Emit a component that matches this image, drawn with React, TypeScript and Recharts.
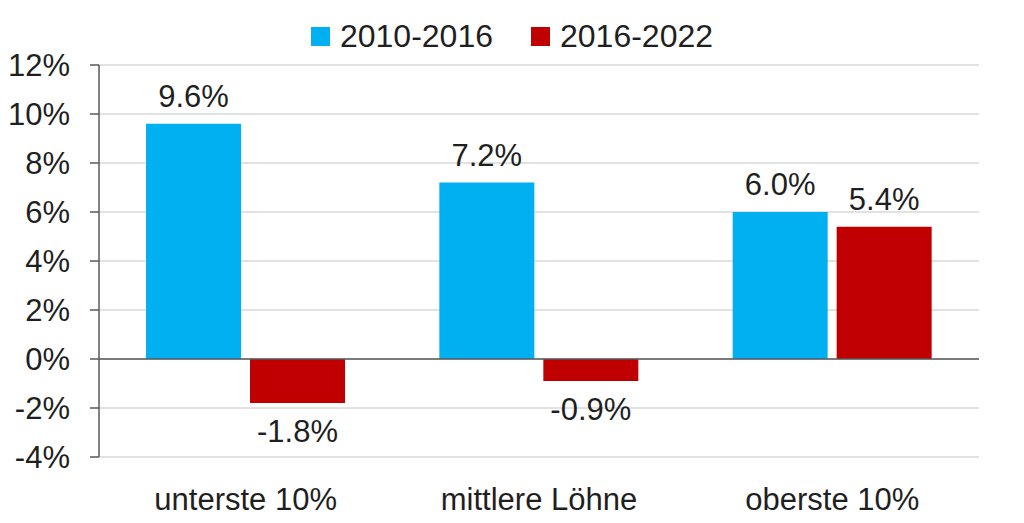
import React from "react";
import { BarChart, Bar, XAxis, YAxis, CartesianGrid, Legend, ReferenceLine } from "recharts";

const categories = ["unterste 10%", "mittlere Löhne", "oberste 10%"];
const series2010_2016 = [9.6, 7.2, 6.0];
const series2016_2022 = [-1.8, -0.9, 5.4];
const yTicks = [-4, -2, 0, 2, 4, 6, 8, 10, 12];
const seriesNames = ["2010-2016", "2016-2022"];
const seriesColors = ["#00B0F0", "#C00000"];

const data = categories.map((c, i) => ({
  name: c,
  a: series2010_2016[i],
  b: series2016_2022[i],
}));

const FONT = "'Liberation Sans', Arial, Helvetica, sans-serif";
const TEXT = "#1f1f1f";

const renderLabel = (props: any) => {
  const { x, y, width, height, value } = props;
  const top = Math.min(y, y + height);
  const bottom = Math.max(y, y + height);
  const cx = x + width / 2;
  const ty = value >= 0 ? top - 17 : bottom + 39;
  return (
    <text x={cx} y={ty} textAnchor="middle" fill={TEXT} fontSize={31} fontFamily={FONT}>
      {`${Number(value).toFixed(1)}%`}
    </text>
  );
};

const renderLegend = () => (
  <div
    style={{
      display: "flex",
      justifyContent: "center",
      alignItems: "center",
      fontFamily: FONT,
      fontSize: 32,
      lineHeight: "36px",
      height: 36,
      color: TEXT,
    }}
  >
    {seriesNames.map((n, i) => (
      <div key={n} style={{ display: "flex", alignItems: "center", marginRight: i === 0 ? 38 : 0 }}>
        <span style={{ width: 19, height: 19, background: seriesColors[i], display: "inline-block", marginRight: 10 }} />
        <span>{n}</span>
      </div>
    ))}
  </div>
);

export default function App() {
  return (
    <div style={{ position: "absolute", left: 0, top: 0, width: 1024, height: 523, background: "#fff" }}>
      <BarChart
        width={1024}
        height={523}
        data={data}
        margin={{ top: 29, right: 45, bottom: 0, left: 0 }}
        barCategoryGap={47}
        barGap={9}
      >
        <CartesianGrid vertical={false} stroke="#d9d9d9" strokeWidth={1.5} />
        <XAxis
          dataKey="name"
          height={66}
          axisLine={false}
          tickLine={false}
          tickSize={0}
          tickMargin={31}
          tick={{ fill: TEXT, fontSize: 31, fontFamily: FONT }}
        />
        <YAxis
          width={99}
          domain={[-4, 12]}
          ticks={yTicks}
          interval={0}
          tickFormatter={(v: number) => `${v}%`}
          axisLine={{ stroke: "#595959", strokeWidth: 1.5 }}
          tickLine={{ stroke: "#595959", strokeWidth: 1.5 }}
          tickSize={9}
          tickMargin={20}
          tick={{ fill: TEXT, fontSize: 31, fontFamily: FONT }}
        />
        <Legend verticalAlign="top" height={36} content={renderLegend} wrapperStyle={{ top: 18, left: 0, width: 1024 }} />
        <ReferenceLine y={0} stroke="#595959" strokeWidth={1.5} />
        <Bar dataKey="a" name={seriesNames[0]} fill={seriesColors[0]} isAnimationActive={false} label={renderLabel} />
        <Bar dataKey="b" name={seriesNames[1]} fill={seriesColors[1]} isAnimationActive={false} label={renderLabel} />
      </BarChart>
    </div>
  );
}
